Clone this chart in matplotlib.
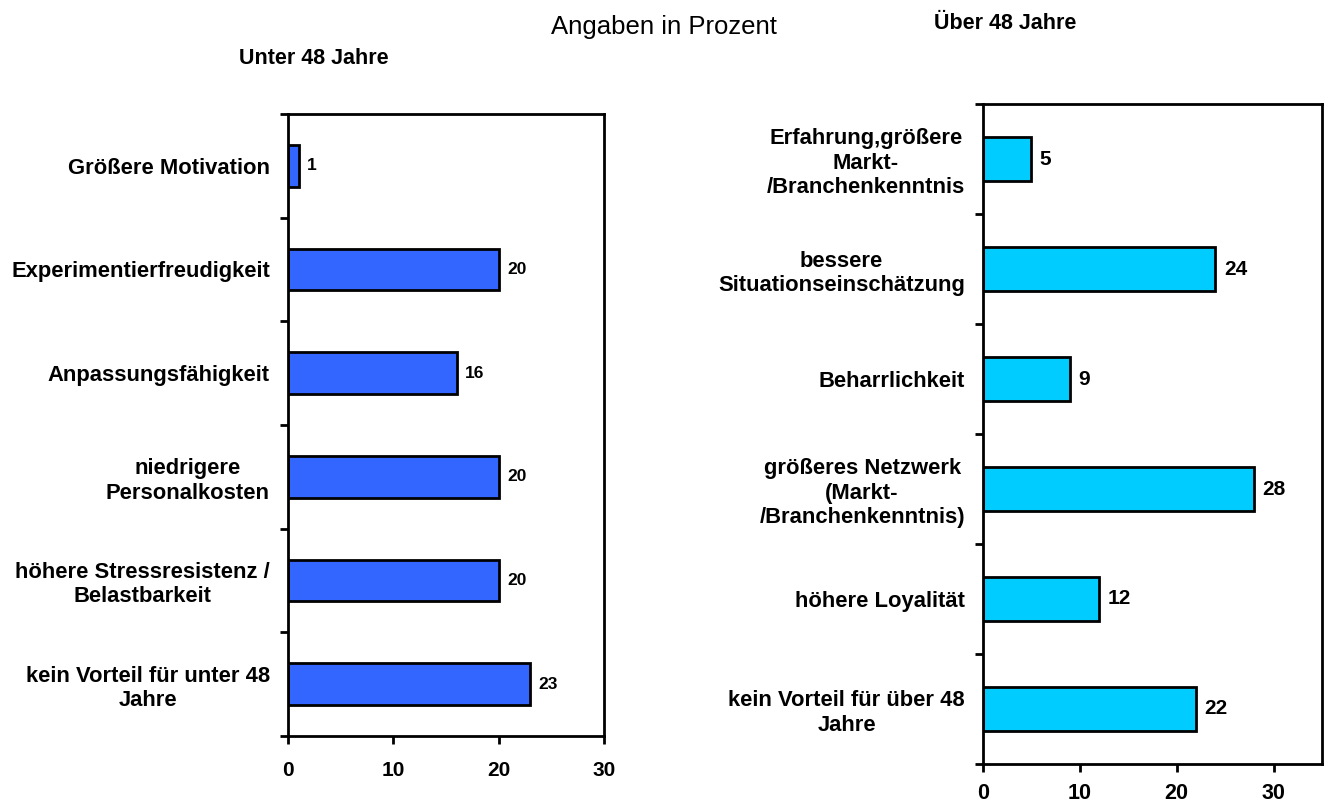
import numpy as np
import matplotlib.pyplot as plt

plt.rcParams['font.family'] = ['Liberation Sans', 'DejaVu Sans']

# data (top to bottom)
unter_labels = ['Größere Motivation', 'Experimentierfreudigkeit', 'Anpassungsfähigkeit',
                'niedrigere\nPersonalkosten', 'höhere Stressresistenz /\nBelastbarkeit',
                'kein Vorteil für unter 48\nJahre']
unter_values = [1, 20, 16, 20, 20, 23]

ueber_labels = ['Erfahrung,größere\nMarkt-\n/Branchenkenntnis', 'bessere\nSituationseinschätzung',
                'Beharrlichkeit', 'größeres Netzwerk\n(Markt-\n/Branchenkenntnis)',
                'höhere Loyalität', 'kein Vorteil für über 48\nJahre']
ueber_values = [5, 24, 9, 28, 12, 22]

x_ticks = [0, 10, 20, 30]

fig = plt.figure(figsize=(13.28, 8.07), dpi=100)


def draw_panel(rect, labels, values, color, xmax, val_size, tick_size, tick_pad):
    ax = fig.add_axes(rect)
    pos = np.arange(len(values))
    bars = ax.barh(pos, values, height=0.4, color=color, edgecolor='black', linewidth=2)
    ax.bar_label(bars, padding=6, fontsize=val_size, fontweight='bold')
    ax.set_xlim(0, xmax)
    ax.set_ylim(len(values) - 0.5, -0.5)
    # tick marks between categories, labels in the middle
    ax.set_yticks(np.arange(len(values) + 1) - 0.5)
    ax.set_yticklabels([])
    ax.set_yticks(pos, labels, minor=True)
    ax.tick_params(axis='y', which='major', length=6, width=2, direction='out')
    ax.tick_params(axis='y', which='minor', length=0, pad=13, labelsize=15.8)
    for t in ax.get_yticklabels(minor=True):
        t.set_fontweight('bold')
        t.set_multialignment('center')
    ax.set_xticks(x_ticks)
    ax.tick_params(axis='x', length=6, width=2, direction='out', pad=tick_pad, labelsize=tick_size)
    for t in ax.get_xticklabels():
        t.set_fontweight('bold')
    for s in ax.spines.values():
        s.set_linewidth(2)
    return ax


ax1 = draw_panel([0.2169, 0.088, 0.238, 0.7708], unter_labels, unter_values,
                 '#3366FF', 30, 12.5, 15, 12)
ax2 = draw_panel([0.7402, 0.0533, 0.2553, 0.8178], ueber_labels, ueber_values,
                 '#00CCFF', 35, 15, 15.5, 8)

fig.text(0.5, 0.967, 'Angaben in Prozent', ha='center', va='center', fontsize=18.5)
fig.text(0.236, 0.928, 'Unter 48 Jahre', ha='center', va='center', fontsize=15.5, fontweight='bold')
fig.text(0.757, 0.971, 'Über 48 Jahre', ha='center', va='center', fontsize=15.5, fontweight='bold')

fig.savefig('out.png', dpi=100)
